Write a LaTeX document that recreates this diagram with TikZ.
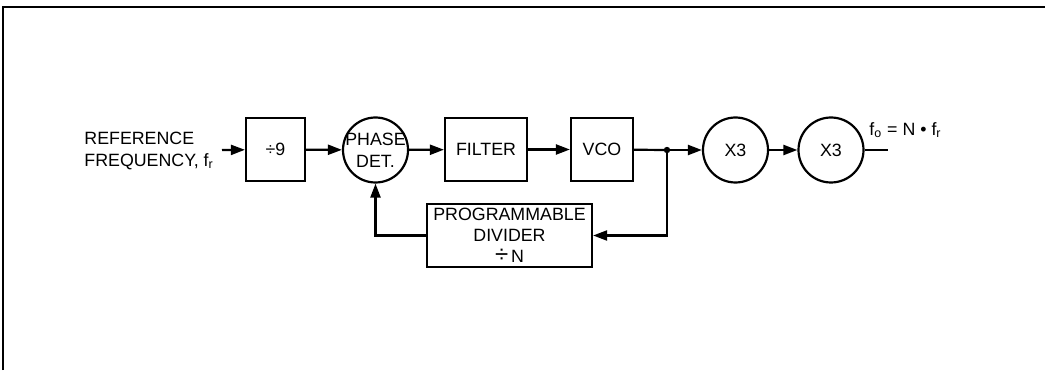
\documentclass[tikz,border=0pt]{standalone}
\usepackage{fontspec}
\setmainfont{Liberation Sans}
\usetikzlibrary{arrows.meta,positioning}
\tikzset{
  block/.style   = {draw, line width=1.1pt, rectangle, minimum height=31.5pt,
                    minimum width=30pt, align=center, inner sep=1pt},
  mult/.style    = {draw, line width=1.1pt, circle, inner sep=-3pt,
                    minimum size=32.5pt, align=center},
  pickoff/.style = {fill, circle, inner sep=0pt, minimum size=3.2pt},
  sig/.style     = {-{Triangle[length=7pt,width=5pt]}, line width=1.1pt},
  wire/.style    = {line width=1.1pt},
}

\begin{document}
\begin{tikzpicture}[x=0.5pt, y=0.5pt, font=\fontsize{8.9}{11}\selectfont]
\useasboundingbox (0,0) rectangle (1045,370);
% ---- frame (top and left edges only) ----
\draw[line width=1.2pt] (3,0) -- (3,363) -- (1045,363);
% ---- forward path ----
\node[anchor=west, align=left, inner sep=0pt] (reflab) at (84,219)
  {REFERENCE\\FREQUENCY, f\textsubscript{r}};
\coordinate (in) at (222,220);
\node[block, minimum width=29.5pt] (div9) at (275.5,220.5) {÷9};
\node[mult] (pd) at (375.5,220) {PHASE\\DET.};
\node[block, minimum width=41pt] (filter) at (486,220.5) {FILTER};
\node[block, minimum width=31pt] (vco) at (602,220.5) {VCO};
\node[pickoff] (tap) at (667,220) {};
\node[mult] (x3a) at (735.5,220) {X3};
\node[mult] (x3b) at (831,220) {X3};
\coordinate (out) at (888,220);
\node[anchor=south west, inner sep=0pt] (outlab) at (869,232)
  {f\textsubscript{o} = N • f\textsubscript{r}};
% ---- feedback divider ----
\node[block, minimum width=82.5pt, inner sep=0pt,
      font=\fontsize{8.9}{11.5}\selectfont] (prog) at (509.5,134.5)
  {PROGRAMMABLE\\[-1pt]DIVIDER\\[-1pt]{\large ÷}\,N};
% ---- connections ----
\draw[sig] (in) -- (div9);
\draw[sig] (div9) -- (pd);
\draw[sig] (pd) -- (filter);
\draw[sig] (filter) -- (vco);
\draw[wire] (vco) -- (tap.center);
\draw[sig] (tap.center) -- (x3a);
\draw[sig] (x3a) -- (x3b);
\draw[wire] (x3b) -- (out);
\draw[sig] (tap.center) |- (prog.east);
\draw[sig] (prog.west) -| (pd.south);
\end{tikzpicture}
\end{document}
